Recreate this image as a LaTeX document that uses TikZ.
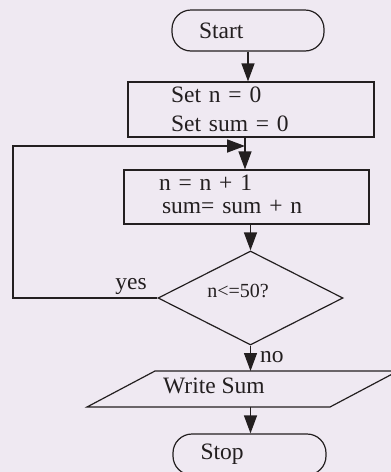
\documentclass[tikz,border=0pt]{standalone}
\usepackage{fontspec}
\setmainfont{Liberation Serif}
\usetikzlibrary{shapes.geometric,arrows.meta}
\definecolor{bg}{RGB}{239,233,242}
\definecolor{ink}{RGB}{35,31,32}
\begin{document}
\begin{tikzpicture}[x=1pt,y=-1pt,
  every node/.style={font=\fontsize{23.5}{29}\selectfont, text=ink},
  shapeline/.style={draw=ink, line width=1.2pt},
  terminal/.style={shapeline, rectangle, rounded corners=19pt, minimum height=41pt,
     inner ysep=0pt, align=left},
  procbox/.style={shapeline, rectangle, inner ysep=0pt, align=left},
  decision/.style={shapeline, diamond, aspect=1.97, inner sep=0pt,
     minimum width=185pt, minimum height=94pt, font=\fontsize{20}{24}\selectfont},
  flow/.style={draw=ink, line width=1.2pt, -{Triangle[length=18pt,width=13pt]}},
  loopflow/.style={draw=ink, line width=1.8pt, -{Triangle[length=18pt,width=13pt]}},
  plain/.style={inner sep=0pt, anchor=base west}
]
\path[use as bounding box, fill=bg] (0,0) rectangle (391,472);

% shapes
\node[terminal, text width=98pt, inner xsep=27pt] (start) at (248,30.5) {Start};
\node[procbox, text width=160pt, inner xsep=43pt, minimum height=55pt] (box1) at (251,109.5)
  {Set n = 0\\Set sum = 0};
\node[procbox, text width=175pt, inner xsep=35pt, minimum height=54pt,
      font=\fontsize{23.5}{22.5}\selectfont] (box2) at (246.5,197)
  {n = n + 1\\\hspace*{3pt}sum= sum + n\rule[-6pt]{0pt}{6pt}};
\node[decision] (dec) at (250.5,298) {n<=50?\hspace*{25pt}\rule[-14pt]{0pt}{14pt}};

% parallelogram (Write Sum)
\coordinate (ptl) at (155,371);
\coordinate (ptr) at (398,371);
\coordinate (pbr) at (330,407);
\coordinate (pbl) at (87,407);
\draw[shapeline] (ptl) -- (ptr) -- (pbr) -- (pbl) -- cycle;
\node[plain] (write) at (163,393) {Write Sum};
\coordinate (wtop) at (250.5,371);
\coordinate (wbot) at (250.5,407);

\node[terminal, text width=98pt, inner xsep=27.5pt] (stop) at (249.5,454.5) {Stop};

% connectors
\coordinate (j) at (245,146);
\coordinate (loopx) at (13,146);
\draw[flow] (start.south) -- (start.south |- box1.north);
\draw[flow] (box1.south -| j) -- (box2.north -| j);
\draw[flow] (box2.south -| dec.north) -- (dec.north);
\draw[loopflow] (dec.west) -- (dec.west -| loopx) -- (loopx) -- (j);
\draw[flow] (dec.south) -- (wtop);
\draw[flow] (wbot) -- (wbot |- stop.north);

% labels
\node[inner sep=0pt, anchor=base] (yes) at (131,289) {yes};
\node[plain] (no) at (260,362) {no};
\end{tikzpicture}
\end{document}
